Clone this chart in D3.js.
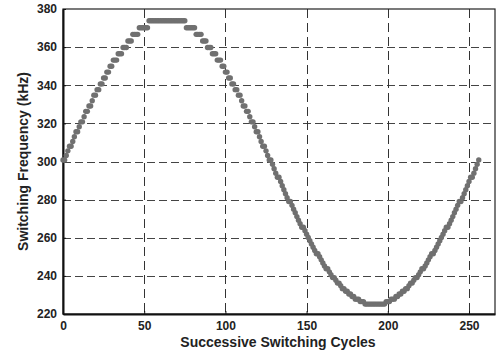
<!DOCTYPE html>
<html>
<head>
<meta charset="utf-8">
<script src="https://cdn.jsdelivr.net/npm/d3@7"></script>
<style>
  html, body { margin: 0; padding: 0; background: #fff; }
  svg { display: block; }
  text { font-family: "Liberation Sans", Arial, sans-serif; font-weight: bold; fill: #222; }
</style>
</head>
<body>
<svg id="chart" width="497" height="355"></svg>
<script>
// Switching frequency (kHz) for each successive switching cycle (index = cycle number)
const frequencyKHz = [
  300.8,300.8,303.2,305.6,308.0,308.0,310.5,313.0,315.6,315.6,
  318.2,320.8,320.8,323.5,326.3,326.3,329.1,329.1,331.9,334.8,
  334.8,337.7,337.7,340.7,340.7,343.8,343.8,346.9,346.9,350.0,
  350.0,353.2,353.2,353.2,356.5,356.5,356.5,359.8,359.8,359.8,
  363.2,363.2,363.2,366.7,366.7,366.7,366.7,370.2,370.2,370.2,
  370.2,370.2,370.2,373.8,373.8,373.8,373.8,373.8,373.8,373.8,
  373.8,373.8,373.8,373.8,373.8,
  373.8,373.8,373.8,373.8,373.8,373.8,373.8,373.8,373.8,373.8,373.8,
  370.2,370.2,370.2,370.2,370.2,370.2,
  366.7,366.7,366.7,366.7,
  363.2,363.2,363.2,
  359.8,359.8,359.8,
  356.5,356.5,356.5,
  353.2,353.2,353.2,
  350.0,350.0,346.9,346.9,343.8,343.8,340.7,340.7,337.7,337.7,
  334.8,334.8,331.9,329.1,329.1,326.3,326.3,323.5,320.8,320.8,
  318.2,315.6,315.6,313.0,310.5,308.0,308.0,305.6,303.2,300.8,300.8,
  298.5,296.2,293.9,291.7,291.7,289.5,287.3,285.2,283.1,281.0,
  279.0,279.0,277.0,275.0,273.1,271.1,269.2,267.4,265.5,265.5,
  263.7,261.9,260.1,258.4,256.7,255.0,253.3,251.6,251.6,250.0,
  248.4,246.8,245.2,243.7,243.7,242.1,240.6,239.1,239.1,237.7,
  236.2,236.2,234.8,233.3,233.3,231.9,231.9,230.5,230.5,229.2,
  229.2,227.8,227.8,227.8,226.5,226.5,226.5,
  225.2,225.2,225.2,225.2,225.2,225.2,225.2,
  225.2,225.2,225.2,225.2,225.2,225.2,
  226.5,226.5,226.5,227.8,227.8,227.8,229.2,229.2,230.5,230.5,
  231.9,231.9,233.3,233.3,234.8,236.2,236.2,237.7,239.1,239.1,
  240.6,242.1,243.7,243.7,245.2,246.8,248.4,250.0,251.6,251.6,
  253.3,255.0,256.7,258.4,260.1,261.9,263.7,265.5,265.5,267.4,
  269.2,271.1,273.1,275.0,277.0,279.0,279.0,281.0,283.1,285.2,
  287.3,289.5,291.7,291.7,293.9,296.2,298.5,300.8
];
const cycles = frequencyKHz.map((_, i) => i);
const xTicks = [0, 50, 100, 150, 200, 250];
const yTicks = [220, 240, 260, 280, 300, 320, 340, 360, 380];
const xLabel = "Successive Switching Cycles";
const yLabel = "Switching Frequency (kHz)";

const svg = d3.select("#chart");
const L = 63, R = 495, T = 9, B = 314;

const x = d3.scaleLinear().domain([0, 266]).range([L, R]);
const y = d3.scaleLinear().domain([220, 380]).range([B, T]);

// grid
const grid = svg.append("g");
grid.selectAll("line.h").data(yTicks.slice(1, -1)).join("line")
  .attr("x1", L).attr("x2", R)
  .attr("y1", d => Math.round(y(d)) + 0.5).attr("y2", d => Math.round(y(d)) + 0.5)
  .attr("stroke", "#444").attr("stroke-width", 1).attr("stroke-dasharray", "8,4");
grid.selectAll("line.v").data(xTicks.slice(1)).join("line")
  .attr("y1", T).attr("y2", B)
  .attr("x1", d => Math.round(x(d)) + 0.5).attr("x2", d => Math.round(x(d)) + 0.5)
  .attr("stroke", "#333").attr("stroke-width", 1).attr("stroke-dasharray", "9,5");

// frame
svg.append("rect").attr("x", L).attr("y", T).attr("width", R - L).attr("height", B - T)
  .attr("fill", "none").attr("stroke", "#222").attr("stroke-width", 1.2);

// axes
const xAxis = d3.axisBottom(x).tickValues(xTicks).tickSizeInner(-3).tickSizeOuter(0).tickPadding(7);
const yAxis = d3.axisLeft(y).tickValues(yTicks).tickSizeInner(-3).tickSizeOuter(0).tickPadding(6);

const gx = svg.append("g").attr("transform", `translate(0,${B})`).call(xAxis);
const gy = svg.append("g").attr("transform", `translate(${L},0)`).call(yAxis);
[gx, gy].forEach(g => {
  g.select(".domain").attr("stroke", "#111").attr("stroke-width", 2);
  g.selectAll(".tick line").attr("stroke", "#111");
  g.selectAll(".tick text").style("font-size", "12px").style("font-weight", "bold")
    .attr("fill", "#222").style("font-family", "'Liberation Sans', Arial, sans-serif");
});

// data points
svg.append("g").selectAll("circle").data(frequencyKHz).join("circle")
  .attr("cx", (d, i) => x(cycles[i]))
  .attr("cy", d => y(d))
  .attr("r", 2.7)
  .attr("fill", "#707070");

// axis titles
svg.append("text").attr("x", 278).attr("y", 347).attr("text-anchor", "middle")
  .style("font-size", "14px").text(xLabel);
svg.append("text").attr("transform", `translate(28,${(T + B) / 2}) rotate(-90)`)
  .attr("text-anchor", "middle").style("font-size", "14px").text(yLabel);
</script>
</body>
</html>
